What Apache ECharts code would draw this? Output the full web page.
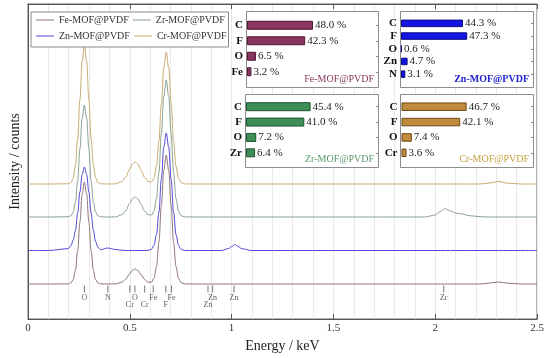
<!DOCTYPE html>
<html>
<head>
<meta charset="utf-8">
<script src="https://cdn.jsdelivr.net/npm/echarts@6/dist/echarts.min.js"></script>
<style>
html,body{margin:0;padding:0;background:#fff;}
#chart{width:550px;height:358px;}
</style>
</head>
<body>
<div id="chart"></div>
<script>
// ---------- Spectra (energy in keV, intensity in arbitrary counts) ----------
const energy = [0, 0.1, 0.197, 0.211, 0.222, 0.233, 0.244, 0.255, 0.266, 0.277, 0.288, 0.299, 0.31, 0.321, 0.332, 0.343, 0.357, 0.39, 0.43, 0.46, 0.48, 0.5, 0.513, 0.526, 0.54, 0.555, 0.572, 0.589, 0.607, 0.619, 0.631, 0.643, 0.655, 0.667, 0.679, 0.691, 0.703, 0.715, 0.727, 0.739, 0.751, 0.769, 0.82, 0.95, 0.985, 1.0, 1.016, 1.032, 1.05, 1.1, 1.5, 1.95, 2.0, 2.025, 2.05, 2.075, 2.1, 2.13, 2.17, 2.22, 2.26, 2.31, 2.36, 2.42, 2.5];

const crCounts = [135, 135, 135.2, 136.5, 141.1, 153.8, 180.2, 219.4, 257.6, 274, 257.6, 219.4, 180.2, 153.8, 141.1, 136.5, 135.2, 135, 135.1, 137.4, 141.8, 150.2, 155, 157, 154.8, 148.9, 141.8, 137.5, 137.1, 141.0, 152.8, 177.9, 215.1, 251.4, 267, 251.4, 215.1, 177.9, 152.8, 140.8, 136.5, 135.1, 135, 135, 135, 135, 135, 135, 135, 135, 135, 135, 135, 135, 135, 135, 135, 135, 135, 135, 135.8, 137.5, 135.8, 135, 135];

const zrCounts = [102, 102, 102.2, 103.2, 106.9, 117.1, 138.4, 170, 200.8, 214, 200.8, 170, 138.4, 117.1, 106.9, 103.2, 102.2, 102, 102.1, 104.2, 108.2, 115.8, 120.2, 122, 120, 114.6, 108.2, 104.3, 104.0, 108.2, 120.5, 146.5, 185.2, 222.8, 239, 222.8, 185.2, 146.5, 120.5, 108, 103.5, 102.1, 102, 102, 102, 102, 102, 102, 102, 102, 102, 102, 104, 107.5, 110.3, 108, 106, 105, 103.3, 102.3, 102, 102, 102, 102, 102];

const znCounts = [68.5, 68.5, 70.3, 73.3, 78.9, 88.5, 106.1, 127, 144.5, 152, 144.5, 127, 106.1, 88.5, 77.4, 71.8, 69.3, 71, 69.5, 68.8, 68.5, 68.5, 68.5, 68.5, 68.5, 68.5, 68.5, 68.6, 69.8, 73.7, 84.4, 106.7, 139.8, 172.1, 186, 172.1, 139.8, 106.7, 84.4, 73.7, 69.8, 68.6, 68.5, 68.5, 70.5, 72.5, 74.5, 72.5, 70.3, 68.5, 68.5, 68.5, 68.5, 68.5, 68.5, 68.5, 68.5, 68.5, 68.5, 68.5, 68.5, 68.5, 68.5, 68.5, 68.5];

const feCounts = [35, 35, 35.1, 36.1, 39.5, 48.8, 68.2, 96.9, 125, 137, 125, 96.9, 68.2, 48.8, 39.5, 36.1, 35.1, 35, 35.1, 36.7, 39.7, 45.4, 48.7, 50, 48.5, 44.5, 39.7, 36.8, 36.8, 40.8, 52.4, 76.9, 113.3, 148.8, 164, 148.8, 113.3, 76.9, 52.4, 40.7, 36.4, 35.1, 35, 35, 35, 35, 35, 35, 35, 35, 35, 35, 35, 35, 35, 35, 35, 35, 35, 35, 35.8, 37, 35.8, 35, 35];

const seriesNames = ['Fe-MOF@PVDF', 'Zr-MOF@PVDF', 'Zn-MOF@PVDF', 'Cr-MOF@PVDF'];

// ---------- Element line markers ----------
const markerNames  = ['O', 'N', 'Cr', 'O', 'Cr', 'Fe', 'F', 'Fe', 'Zn', 'Zn', 'Zn', 'Zr'];
const markerEnergy = [0.277, 0.392, 0.500, 0.525, 0.573, 0.615, 0.677, 0.705, 0.884, 0.907, 1.012, 2.042];
const markerLow    = [false, false, true, false, true, false, true, false, true, false, false, false];

// ---------- EDS composition insets (%) ----------
const feElements = ['C', 'F', 'O', 'Fe'];
const fePct = [48.0, 42.3, 6.5, 3.2];
const znElements = ['C', 'F', 'O', 'Zn', 'N'];
const znPct = [44.3, 47.3, 0.6, 4.7, 3.1];
const zrElements = ['C', 'F', 'O', 'Zr'];
const zrPct = [45.4, 41.0, 7.2, 6.4];
const crElements = ['C', 'F', 'O', 'Cr'];
const crPct = [46.7, 42.1, 7.4, 3.6];

const xTickLabels = [0, 0.5, 1, 1.5, 2, 2.5];

// ---------- Build ----------
const FONT = "'Liberation Serif', 'DejaVu Serif', serif";
const lineColors = {
  'Fe-MOF@PVDF': '#8e7479',
  'Zr-MOF@PVDF': '#8aa192',
  'Zn-MOF@PVDF': '#5148d9',
  'Cr-MOF@PVDF': '#c8ac72'
};
const countsByName = {
  'Fe-MOF@PVDF': feCounts,
  'Zr-MOF@PVDF': zrCounts,
  'Zn-MOF@PVDF': znCounts,
  'Cr-MOF@PVDF': crCounts
};

const insets = [
  { name: 'Fe-MOF@PVDF', cats: feElements, vals: fePct, fill: '#8a3560', border: '#4e1733', title: '#8a3a60', bold: false,
    box: [247, 12, 132, 76], grid: { left: 247, top: 17.5, width: 132, height: 62 }, max: 96, barWidth: 9 },
  { name: 'Zn-MOF@PVDF', cats: znElements, vals: znPct, fill: '#1414e6', border: '#0a0a80', title: '#2020d0', bold: true,
    box: [401, 12, 133, 76], grid: { left: 401, top: 17, width: 133, height: 63.5 }, max: 95, barWidth: 7.5 },
  { name: 'Zr-MOF@PVDF', cats: zrElements, vals: zrPct, fill: '#3f8d57', border: '#1d5530', title: '#5c9a6c', bold: false,
    box: [246, 95, 133, 73], grid: { left: 246, top: 99, width: 133, height: 61.5 }, max: 93.5, barWidth: 9 },
  { name: 'Cr-MOF@PVDF', cats: crElements, vals: crPct, fill: '#c08b3c', border: '#6a4815', title: '#c4a040', bold: false,
    box: [401, 95, 133, 73], grid: { left: 401.5, top: 99, width: 132.5, height: 61.5 }, max: 95, barWidth: 8.5 }
];

const grids = [{ left: 25, right: 13, top: 4, bottom: 39, show: true, borderColor: '#666', borderWidth: 1, backgroundColor: 'transparent' }];
const xAxes = [
  { type: 'value', gridIndex: 0, min: 0, max: 2.5, interval: 0.5,
    name: 'Energy / keV', nameLocation: 'middle', nameGap: 19,
    nameTextStyle: { fontFamily: FONT, fontSize: 14, color: '#222' },
    axisLine: { lineStyle: { color: '#555' } },
    axisTick: { inside: true, length: 5, lineStyle: { color: '#555' } },
    minorTick: { show: false, splitNumber: 5 },
    axisLabel: { fontFamily: FONT, fontSize: 11, color: '#333', margin: 4,
      formatter: v => xTickLabels.indexOf(+v.toFixed(2)) >= 0 ? String(+v.toFixed(2)) : '' },
    splitLine: { show: true, lineStyle: { color: '#e8e8e8', width: 1 } },
    minorSplitLine: { show: true, lineStyle: { color: '#e8e8e8', width: 1 } }
  },
  { type: 'value', gridIndex: 0, position: 'top', min: 0, max: 2.5, interval: 0.5,
    axisLine: { lineStyle: { color: '#555' } },
    axisTick: { inside: true, length: 5, lineStyle: { color: '#555' } },
    axisLabel: { show: false }, splitLine: { show: false }
  }
];
const yAxes = [
  { type: 'value', gridIndex: 0, min: 0, max: 315,
    name: 'Intensity / counts', nameLocation: 'middle', nameGap: 6,
    nameTextStyle: { fontFamily: FONT, fontSize: 14, color: '#222' },
    axisLine: { show: true, lineStyle: { color: '#555' } },
    axisTick: { show: false }, axisLabel: { show: false }, splitLine: { show: false }
  }
];

const series = [];
['Cr-MOF@PVDF', 'Zr-MOF@PVDF', 'Zn-MOF@PVDF', 'Fe-MOF@PVDF'].forEach(n => {
  series.push({
    name: n, type: 'line', xAxisIndex: 0, yAxisIndex: 0,
    data: energy.map((e, i) => [e, countsByName[n][i]]),
    symbol: 'none', showSymbol: false, smooth: 0.35, smoothMonotone: 'x',
    lineStyle: { color: lineColors[n], width: 1 }, itemStyle: { color: lineColors[n] },
    silent: true, z: 2
  });
});

series.push({
  name: 'markers', type: 'scatter', xAxisIndex: 0, yAxisIndex: 0,
  symbol: 'rect', symbolSize: [1, 7], silent: true, z: 3,
  itemStyle: { color: '#555' },
  data: markerNames.map((nm, i) => ({
    name: nm, value: [markerEnergy[i], 30],
    label: { distance: markerLow[i] ? 8.5 : 1.5 }
  })),
  label: { show: true, position: 'bottom', formatter: p => p.name,
    fontFamily: FONT, fontSize: 8, color: '#333' }
});

const graphics = [];
insets.forEach((ins, k) => {
  const gi = k + 1;
  grids.push(Object.assign({ show: false }, ins.grid));
  xAxes.push({ type: 'value', gridIndex: gi, min: 0, max: ins.max, show: false });
  const yMain = yAxes.length;
  yAxes.push({ type: 'category', gridIndex: gi, data: ins.cats, inverse: true,
    axisLine: { show: false }, axisTick: { show: false }, splitLine: { show: false },
    axisLabel: { interval: 0, hideOverlap: false, fontFamily: FONT, fontSize: 11, fontWeight: 'bold', color: '#111', margin: 4 } });
  yAxes.push({ type: 'category', gridIndex: gi, data: ins.cats, inverse: true, position: 'right', z: 5,
    axisLine: { show: false }, axisLabel: { show: false }, splitLine: { show: false },
    axisTick: { show: true, interval: 0, inside: true, length: 3, alignWithLabel: true, lineStyle: { color: '#888' } } });
  series.push({
    name: ins.name + ' EDS', type: 'bar', xAxisIndex: xAxes.length - 1, yAxisIndex: yMain,
    data: ins.vals, barWidth: ins.barWidth, silent: true, z: 4,
    itemStyle: { color: ins.fill, borderColor: ins.border, borderWidth: 1 },
    label: { show: true, position: 'right', distance: 2, fontFamily: FONT, fontSize: 11, color: '#222',
      formatter: p => p.value.toFixed(1) + ' %' }
  });
  const b = ins.box;
  graphics.push({ type: 'rect', z: 1, silent: true,
    shape: { x: b[0] - 0.5, y: b[1] - 0.5, width: b[2], height: b[3] },
    style: { fill: '#fff', stroke: '#8c8c8c', lineWidth: 1 } });
  graphics.push({ type: 'text', z: 6, silent: true,
    x: b[0] + b[2] - 5, y: b[1] + b[3] - 9,
    style: { text: ins.name, fill: ins.title, font: (ins.bold ? 'bold ' : '') + '10px ' + FONT,
      textAlign: 'right', textVerticalAlign: 'middle' } });
});

const chart = echarts.init(document.getElementById('chart'), null, { renderer: 'canvas' });
chart.setOption({
  animation: false,
  backgroundColor: '#fff',
  grid: grids,
  xAxis: xAxes,
  yAxis: yAxes,
  graphic: { elements: graphics },
  legend: {
    data: seriesNames.map(n => ({ name: n, icon: 'rect', itemStyle: { color: lineColors[n] } })),
    left: 31, top: 12, width: 192, orient: 'horizontal',
    itemWidth: 18, itemHeight: 1, itemGap: 4, padding: [2, 2, 5, 5],
    borderColor: '#888', borderWidth: 1, backgroundColor: '#fff',
    textStyle: { fontFamily: FONT, fontSize: 10, color: '#333', lineHeight: 12 },
    selectedMode: false
  },
  series: series
});
</script>
</body>
</html>
